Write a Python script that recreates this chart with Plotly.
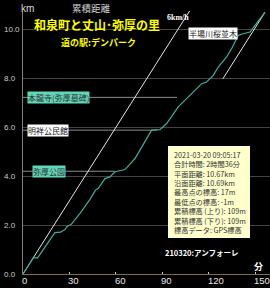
import plotly.graph_objects as go

# ---- data ----
minutes = [0, 6.6, 9.4, 20.6, 24.2, 27.1, 28.4, 31, 36.8, 43.2, 46.8, 48.6, 52.9, 56.1, 59.4,
           62.6, 65.8, 72.3, 83, 88.4, 92.7, 100.2, 104.5, 109.9, 112.1, 115.3, 118.5, 122.8,
           126, 131.4, 134.6, 136.8, 139, 142.1, 146.5, 149.7, 156.1]
distance_km = [0, 0.66, 0.66, 1.69, 1.71, 1.82, 1.94, 2.02, 2.48, 3.05, 3.43, 3.5, 3.9, 3.97, 4.18,
               4.24, 4.27, 4.72, 5.88, 5.9, 6.15, 6.83, 7.1, 7.44, 7.6, 7.78, 7.85, 8.12,
               8.46, 8.87, 9.21, 9.48, 9.76, 9.82, 9.89, 10.16, 10.69]

pace_start_min = [0, 107.5]
pace_start_km = [0, 10.75]
pace_end_min = [129, 156.1]
pace_end_km = [7.98, 10.69]

landmark_names = ["本龍寺(弥厚墓碑)", "明祥公民館", "弥厚公園", "半場川桜並木"]
landmark_km = [7.22, 5.88, 4.2, 9.82]
landmark_line_end_min = [99.4, 86.5, 59.4, None]

x_ticks = [0, 30, 60, 90, 120, 150]
x_tick_text = ["0", "30", "60", "90", "120", "150"]
y_ticks = [0, 2, 4, 6, 8, 10]
y_tick_text = ["0.0", "2.0", "4.0", "6.0", "8.0", "10.0"]

info_lines = [
    "2021-03-20 09:05:17",
    "合計時間: 2時間36分",
    "平面距離: 10.67km",
    "沿面距離: 10.69km",
    "最高点の標高: 17m",
    "最低点の標高: -1m",
    "累積標高 (上り): 109m",
    "累積標高 (下り): 109m",
    "標高データ: GPS標高",
]

title_text = "和泉町と丈山･弥厚の里"
subtitle_text = "道の駅:デンパーク"
footer_text = "210320:アンフォーレ"

# ---- layout geometry (pixels) ----
W, H = 270, 288
ML, MR, MT, MB = 23, 0, 11, 14
PW, PH = W - ML - MR, H - MT - MB
XMAX = 159.4
YMAX = 10.75


def px(xp):
    return (xp - ML) / PW


def py(yp):
    return (H - MB - yp) / PH


CJK = "Noto Sans CJK JP"
SANS = "Liberation Sans, Noto Sans CJK JP"

fig = go.Figure()

# landmark guide lines
for km, tend in zip(landmark_km, landmark_line_end_min):
    if tend is None:
        continue
    fig.add_trace(go.Scatter(x=[0, tend], y=[km, km], mode="lines",
                             line=dict(color="#8c8c8c", width=1), hoverinfo="skip", showlegend=False))

fig.add_trace(go.Scatter(x=pace_start_min, y=pace_start_km, mode="lines",
                         line=dict(color="#e6e6e6", width=1), showlegend=False))
fig.add_trace(go.Scatter(x=pace_end_min, y=pace_end_km, mode="lines",
                         line=dict(color="#e6e6e6", width=1), showlegend=False))
fig.add_trace(go.Scatter(x=minutes, y=distance_km, mode="lines",
                         line=dict(color="#3fae9e", width=1.2), showlegend=False))

annotations = []

# y tick labels (left aligned, like the reference)
for v, t in zip(y_ticks, y_tick_text):
    annotations.append(dict(x=px(2), y=v, xref="paper", yref="y", text=t, showarrow=False,
                            xanchor="left", yanchor="middle",
                            font=dict(family=SANS, size=8, color="#cfcfcf")))

# x tick labels (left aligned at each tick)
for v, t in zip(x_ticks, x_tick_text):
    annotations.append(dict(x=v, y=py(280), xref="x", yref="paper", text=t, showarrow=False,
                            xanchor="left", yanchor="middle", xshift=-2, borderpad=0,
                            font=dict(family=SANS, size=9.5, color="#e6e6e6")))

# landmark labels
label_styles = [
    dict(xp=27, bg="#62d6b8", fg="#303030"),
    dict(xp=27, bg="#ffffff", fg="#202020"),
    dict(xp=32, bg="#62d6b8", fg="#303030"),
    dict(xp=188, bg="#ffffff", fg="#202020"),
]
for name, km, st in zip(landmark_names, landmark_km, label_styles):
    annotations.append(dict(x=px(st["xp"]), y=km, xref="paper", yref="y", text=name,
                            showarrow=False, xanchor="left", yanchor="middle",
                            bgcolor=st["bg"], borderpad=0,
                            font=dict(family=CJK, size=8, color=st["fg"])))

# titles and free texts
annotations += [
    dict(x=px(96.5), y=py(24.5), xref="paper", yref="paper", text="<b>" + title_text + "</b>",
         showarrow=False, xanchor="center", yanchor="middle",
         font=dict(family=CJK, size=12, color="#ffff00")),
    dict(x=px(98.5), y=py(42.5), xref="paper", yref="paper", text="<b>" + subtitle_text + "</b>",
         showarrow=False, xanchor="center", yanchor="middle",
         font=dict(family=CJK, size=9, color="#ffff00")),
    dict(x=px(91), y=py(8), xref="paper", yref="paper", text="累積距離",
         showarrow=False, xanchor="center", yanchor="middle",
         font=dict(family=CJK, size=9.5, color="#cfcfcf")),
    dict(x=px(27), y=py(8), xref="paper", yref="paper", text="km",
         showarrow=False, xanchor="center", yanchor="middle",
         font=dict(family=SANS, size=10, color="#dddddd")),
    dict(x=px(177.5), y=py(17.5), xref="paper", yref="paper", text="<b>6km/h</b>",
         showarrow=False, xanchor="center", yanchor="middle",
         font=dict(family="Liberation Serif", size=8, color="#ffffff")),
    dict(x=px(258.5), y=py(266.5), xref="paper", yref="paper", text="<b>分</b>",
         showarrow=False, xanchor="center", yanchor="middle",
         font=dict(family=CJK, size=9, color="#ffffff")),
    dict(x=px(201.5), y=py(252), xref="paper", yref="paper", text="<b>" + footer_text + "</b>",
         showarrow=False, xanchor="center", yanchor="middle",
         font=dict(family=CJK, size=7.5, color="#ffffff")),
]

# info box (one multi-line text on a light yellow panel)
annotations.append(dict(x=px(173), y=py(192.2), xref="paper", yref="paper",
                        text="<br>".join(info_lines), showarrow=False,
                        xanchor="left", yanchor="middle", align="left", borderpad=0,
                        font=dict(family=CJK, size=7.2, color="#333333")))

shapes = [
    dict(type="rect", xref="paper", yref="paper", x0=px(168), x1=px(250), y0=py(238), y1=py(146),
         fillcolor="#ffffcc", line=dict(width=0), layer="above"),
]

fig.update_layout(
    width=W, height=H,
    margin=dict(l=ML, r=MR, t=MT, b=MB),
    paper_bgcolor="#000000", plot_bgcolor="#000000",
    showlegend=False,
    annotations=annotations,
    shapes=shapes,
    xaxis=dict(range=[0, XMAX], tickvals=x_ticks, showticklabels=False,
               ticks="inside", ticklen=2, tickcolor="#cccccc",
               showgrid=False, zeroline=False, showline=True, linecolor="#7d6d45", linewidth=1),
    yaxis=dict(range=[0, YMAX], tickvals=y_ticks, showticklabels=False, ticks="",
               showgrid=True, gridcolor="#45453a", gridwidth=1,
               zeroline=False, showline=True, linecolor="#808080", linewidth=1),
)

fig.write_html("out.html")
